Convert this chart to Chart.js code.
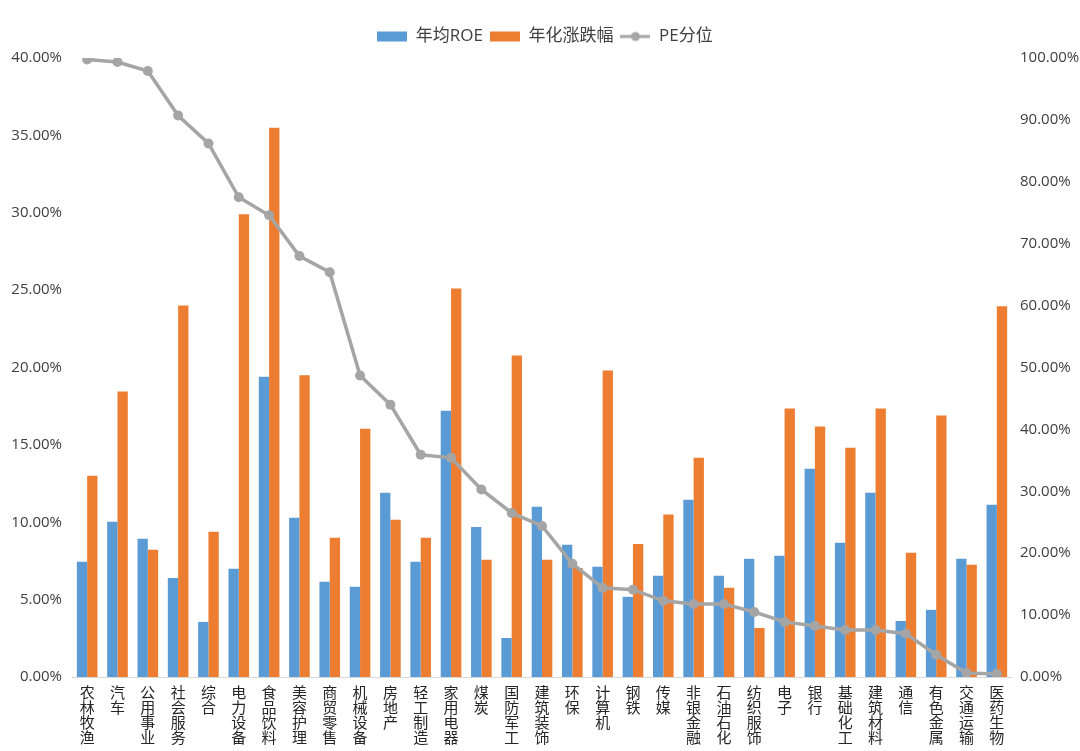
<!DOCTYPE html>
<html>
<head>
<meta charset="utf-8">
<script src="https://cdn.jsdelivr.net/npm/chart.js@4.4.1/dist/chart.umd.min.js"></script>
<style>
  html, body { margin: 0; padding: 0; background: #fff; }
  #wrap { width: 1080px; height: 751px; position: relative; }
</style>
</head>
<body>
<div id="wrap"><canvas id="myChart"></canvas></div>
<script>
// 行业（竖排显示）
const industries = ['农林牧渔', '汽车', '公用事业', '社会服务', '综合', '电力设备', '食品饮料', '美容护理',
    '商贸零售', '机械设备', '房地产', '轻工制造', '家用电器', '煤炭', '国防军工', '建筑装饰', '环保',
    '计算机', '钢铁', '传媒', '非银金融', '石油石化', '纺织服饰', '电子', '银行', '基础化工',
    '建筑材料', '通信', '有色金属', '交通运输', '医药生物'];

// 年均ROE, %
const roeData = [7.44, 10.03, 8.93, 6.40, 3.56, 6.99, 19.40, 10.29, 6.15, 5.83, 11.90, 7.44, 17.20,
    9.70, 2.52, 11.00, 8.54, 7.12, 5.18, 6.54, 11.46, 6.54, 7.64, 7.83, 13.46, 8.67, 11.90, 3.62,
    4.34, 7.64, 11.13];

// 年化涨跌幅, %
const riseData = [13.00, 18.45, 8.22, 24.00, 9.39, 29.90, 35.50, 19.50, 9.00, 16.05, 10.16, 9.00,
    25.10, 7.57, 20.78, 7.57, 7.05, 19.80, 8.60, 10.50, 14.17, 5.76, 3.17, 17.35, 16.18, 14.82,
    17.35, 8.03, 16.90, 7.25, 23.95];

// PE分位, %
const peData = [99.76, 99.35, 97.90, 90.70, 86.20, 77.50, 74.60, 68.00, 65.40, 48.70, 44.00, 35.90,
    35.40, 30.30, 26.50, 24.40, 18.30, 14.40, 14.10, 12.30, 11.80, 11.80, 10.50, 8.90, 8.25, 7.60,
    7.60, 7.00, 3.60, 0.65, 0.50];

const blue = '#5B9BD5';
const orange = '#ED7D31';
const gray = '#A5A5A5';
const fontFamily = "'Open Sans', 'Noto Sans CJK SC', sans-serif";

function legendIcon(type, color) {
    const c = document.createElement('canvas');
    c.width = 30;
    c.height = 12;
    const g = c.getContext('2d');
    if (type === 'bar') {
        g.fillStyle = color;
        g.fillRect(0, 1, 30, 10);
    } else {
        g.strokeStyle = color;
        g.lineWidth = 3;
        g.beginPath();
        g.moveTo(0, 6);
        g.lineTo(30, 6);
        g.stroke();
        g.fillStyle = color;
        g.beginPath();
        g.arc(15, 6, 4.5, 0, Math.PI * 2);
        g.fill();
    }
    return c;
}

const icons = [legendIcon('bar', blue), legendIcon('bar', orange), legendIcon('line', gray)];

// legend keeps tight item spacing, but takes a fixed height in the layout
const legendHeight = {
    id: 'legendHeight',
    afterInit(chart) {
        const fit = chart.legend.fit;
        chart.legend.fit = function () {
            fit.bind(chart.legend)();
            this.height = 37;
        };
    }
};

const ctx = document.getElementById('myChart').getContext('2d');
new Chart(ctx, {
    type: 'bar',
    data: {
        labels: industries.map(name => name.split('')),
        datasets: [
            {
                label: '年均ROE',
                data: roeData,
                backgroundColor: blue,
                yAxisID: 'y',
                order: 1,
                categoryPercentage: 0.68,
                barPercentage: 1.0
            },
            {
                label: '年化涨跌幅',
                data: riseData,
                backgroundColor: orange,
                yAxisID: 'y',
                order: 1,
                categoryPercentage: 0.68,
                barPercentage: 1.0
            },
            {
                label: 'PE分位',
                data: peData,
                type: 'line',
                borderColor: gray,
                backgroundColor: gray,
                borderWidth: 3.5,
                pointRadius: 5,
                pointBackgroundColor: gray,
                pointBorderWidth: 0,
                tension: 0,
                yAxisID: 'y1',
                order: 0
            }
        ]
    },
    plugins: [legendHeight],
    options: {
        responsive: true,
        maintainAspectRatio: false,
        animation: false,
        layout: {
            padding: { left: 10, right: 0, top: 21, bottom: 5 }
        },
        plugins: {
            tooltip: { enabled: false },
            legend: {
                position: 'top',
                labels: {
                    usePointStyle: true,
                    pointStyleWidth: 30,
                    padding: 7,
                    color: '#404040',
                    font: { family: fontFamily, size: 17 },
                    generateLabels(chart) {
                        return chart.data.datasets.map((ds, i) => ({
                            text: ds.label,
                            pointStyle: icons[i],
                            fillStyle: ds.backgroundColor,
                            strokeStyle: ds.backgroundColor,
                            lineWidth: 0,
                            hidden: false,
                            datasetIndex: i,
                            fontColor: '#404040'
                        }));
                    }
                }
            }
        },
        scales: {
            x: {
                grid: { display: false, drawTicks: false },
                border: { display: true, color: '#D9D9D9', width: 1 },
                afterFit(scale) { scale.height = 69; },
                ticks: {
                    autoSkip: false,
                    maxRotation: 0,
                    minRotation: 0,
                    padding: 9,
                    color: '#262626',
                    font: { family: fontFamily, size: 15, lineHeight: 1.0 }
                }
            },
            y: {
                position: 'left',
                min: 0,
                max: 40,
                grid: { display: false, drawTicks: false },
                border: { display: false },
                afterFit(scale) { scale.width = 62; },
                ticks: {
                    stepSize: 5,
                    padding: 10,
                    color: '#404040',
                    font: { family: fontFamily, size: 15 },
                    callback: v => v.toFixed(2) + '%'
                }
            },
            y1: {
                position: 'right',
                min: 0,
                max: 100,
                grid: { display: false, drawTicks: false },
                border: { display: false },
                afterFit(scale) { scale.width = 68; },
                ticks: {
                    stepSize: 10,
                    padding: 8,
                    color: '#404040',
                    font: { family: fontFamily, size: 15 },
                    callback: v => v.toFixed(2) + '%'
                }
            }
        }
    }
});
</script>
</body>
</html>
